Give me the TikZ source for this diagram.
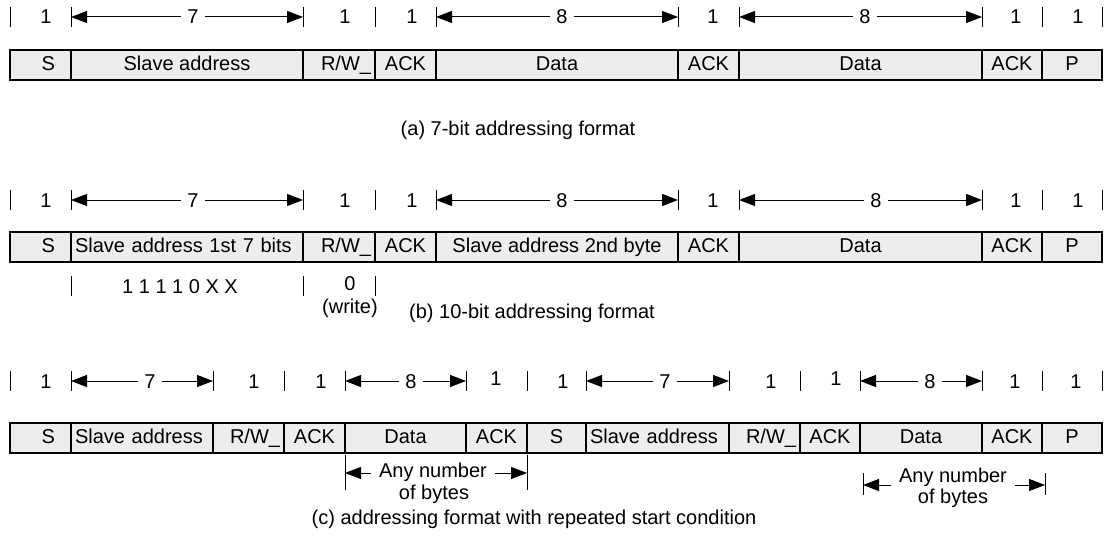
\documentclass[tikz,border=0pt]{standalone}
\usepackage{fontspec}
\setmainfont{Liberation Sans}
\usepackage{tikz}
\usetikzlibrary{arrows.meta}
\definecolor{cellgray}{RGB}{236,237,239}

\begin{document}
\begin{tikzpicture}[
    x=0.5pt, y=-0.5pt,
    every node/.style = {font=\fontsize{10}{12}\selectfont, inner sep=1pt},
    field/.style  = {draw, line width=0.7pt, fill=cellgray, minimum height=15pt,
                     inner xsep=2pt, text height=7pt, text depth=2pt},
    fieldl/.style = {field, align=left},
    fieldr/.style = {field, align=right},
    fields/.style = {field, align=right, inner xsep=8pt, text width=14.5pt},
    num/.style    = {inner xsep=3pt, text height=7pt, text depth=0pt},
    many/.style   = {inner xsep=4pt},
    tick/.style   = {line width=0.5pt},
    dim/.style    = {-{Triangle[length=8pt,width=6pt]}, line width=0.5pt},
]
\useasboundingbox (0,0) rectangle (1106,535);

%% (a) bit counts
\draw[tick] (10,7) -- (10,27) (71,7) -- (71,27) (303,7) -- (303,27) (375,7) -- (375,27)
            (436,7) -- (436,27) (678,7) -- (678,27) (739,7) -- (739,27) (982,7) -- (982,27)
            (1042,7) -- (1042,27) (1102,7) -- (1102,27);
\coordinate (a71)  at (71,17);
\coordinate (a303) at (303,17);
\coordinate (a436) at (436,17);
\coordinate (a678) at (678,17);
\coordinate (a739) at (739,17);
\coordinate (a982) at (982,17);
\node[num] (an1) at (46,17)   {1};
\node[num] (an2) at (193,17)  {7};
\node[num] (an3) at (345,17)  {1};
\node[num] (an4) at (412,17)  {1};
\node[num] (an5) at (562,17)  {8};
\node[num] (an6) at (713,17)  {1};
\node[num] (an7) at (865,17)  {8};
\node[num] (an8) at (1016,17) {1};
\node[num] (an9) at (1078,17) {1};
\draw[dim] (an2) -- (a71);
\draw[dim] (an2) -- (a303);
\draw[dim] (an5) -- (a436);
\draw[dim] (an5) -- (a678);
\draw[dim] (an7) -- (a739);
\draw[dim] (an7) -- (a982);

%% (a) frame
\node[fields]                       (aS)    at (40.5,65)  {S};
\node[field, minimum width=116pt]   (aAdr)  at (187,65)   {Slave address};
\node[fieldr, text width=32pt]      (aRW)   at (339,65)   {R/W\_};
\node[field, minimum width=30.5pt]  (aAck1) at (405.5,65) {ACK};
\node[field, minimum width=121pt]   (aD1)   at (557,65)   {Data};
\node[field, minimum width=30.5pt]  (aAck2) at (708.5,65) {ACK};
\node[field, minimum width=121.5pt] (aD2)   at (860.5,65) {Data};
\node[field, minimum width=30pt]    (aAck3) at (1012,65)  {ACK};
\node[field, minimum width=30pt]    (aP)    at (1072,65)  {P};
\node (acap) at (518,130) {(a) 7-bit addressing format};

%% (b) bit counts
\draw[tick] (10,190) -- (10,210) (71,190) -- (71,210) (303,190) -- (303,210) (375,190) -- (375,210)
            (436,190) -- (436,210) (678,190) -- (678,210) (739,190) -- (739,210) (982,190) -- (982,210)
            (1042,190) -- (1042,210) (1102,190) -- (1102,210);
\coordinate (b71)  at (71,200);
\coordinate (b303) at (303,200);
\coordinate (b436) at (436,200);
\coordinate (b678) at (678,200);
\coordinate (b739) at (739,200);
\coordinate (b982) at (982,200);
\node[num] (bn1) at (46,200)   {1};
\node[num] (bn2) at (193,200)  {7};
\node[num] (bn3) at (345,200)  {1};
\node[num] (bn4) at (412,200)  {1};
\node[num] (bn5) at (562,200)  {8};
\node[num] (bn6) at (713,200)  {1};
\node[num] (bn7) at (876,200)  {8};
\node[num] (bn8) at (1016,200) {1};
\node[num] (bn9) at (1078,200) {1};
\draw[dim] (bn2) -- (b71);
\draw[dim] (bn2) -- (b303);
\draw[dim] (bn5) -- (b436);
\draw[dim] (bn5) -- (b678);
\draw[dim] (bn7) -- (b739);
\draw[dim] (bn7) -- (b982);

%% (b) frame
\node[fields]                       (bS)    at (40.5,247)  {S};
\node[fieldl, text width=112pt]     (bAdr1) at (187,247)   {Slave address 1st 7 bits};
\node[fieldr, text width=32pt]      (bRW)   at (339,247)   {R/W\_};
\node[field, minimum width=30.5pt]  (bAck1) at (405.5,247) {ACK};
\node[field, minimum width=121pt]   (bAdr2) at (557,247)   {Slave address 2nd byte};
\node[field, minimum width=30.5pt]  (bAck2) at (708.5,247) {ACK};
\node[field, minimum width=121.5pt] (bD)    at (860.5,247) {Data};
\node[field, minimum width=30pt]    (bAck3) at (1012,247)  {ACK};
\node[field, minimum width=30pt]    (bP)    at (1072,247)  {P};

%% (b) fixed bits
\draw[tick] (71,276) -- (71,296) (303,276) -- (303,296) (375,276) -- (375,296);
\node (bbits)  at (180,287) {1 1 1 1 0 X X};
\node (bzero)  at (350,284) {0};
\node (bwrite) at (350,308) {(write)};
\node (bcap)   at (532,313) {(b) 10-bit addressing format};

%% (c) bit counts
\draw[tick] (10,371) -- (10,391) (71,371) -- (71,391) (213,371) -- (213,391) (284,371) -- (284,391)
            (345,371) -- (345,391) (466,371) -- (466,391) (527,371) -- (527,391) (586,371) -- (586,391)
            (729,371) -- (729,391) (800,371) -- (800,391) (860,371) -- (860,391) (982,371) -- (982,391)
            (1042,371) -- (1042,391) (1102,371) -- (1102,391);
\coordinate (c71)  at (71,381);
\coordinate (c213) at (213,381);
\coordinate (c345) at (345,381);
\coordinate (c466) at (466,381);
\coordinate (c586) at (586,381);
\coordinate (c729) at (729,381);
\coordinate (c860) at (860,381);
\coordinate (c982) at (982,381);
\node[num] (cn1)  at (46,381)   {1};
\node[num] (cn2)  at (150,381)  {7};
\node[num] (cn3)  at (254,381)  {1};
\node[num] (cn4)  at (321,381)  {1};
\node[num] (cn5)  at (411,381)  {8};
\node[num] (cn6)  at (496,378)  {1};
\node[num] (cn7)  at (563,381)  {1};
\node[num] (cn8)  at (665,381)  {7};
\node[num] (cn9)  at (771,381)  {1};
\node[num] (cn10) at (836,378)  {1};
\node[num] (cn11) at (930,381)  {8};
\node[num] (cn12) at (1015,381) {1};
\node[num] (cn13) at (1076,381) {1};
\draw[dim] (cn2) -- (c71);
\draw[dim] (cn2) -- (c213);
\draw[dim] (cn5) -- (c345);
\draw[dim] (cn5) -- (c466);
\draw[dim] (cn8) -- (c586);
\draw[dim] (cn8) -- (c729);
\draw[dim] (cn11) -- (c860);
\draw[dim] (cn11) -- (c982);

%% (c) frame
\node[fields]                      (cS1)   at (40.5,438)  {S};
\node[fieldl, text width=67pt]     (cAdr1) at (142,438)   {Slave address};
\node[fieldr, text width=31.5pt]   (cRW1)  at (248.5,438) {R/W\_};
\node[field, minimum width=30.5pt] (cAck1) at (314.5,438) {ACK};
\node[field, minimum width=60.5pt] (cD1)   at (405.5,438) {Data};
\node[field, minimum width=30.5pt] (cAck2) at (496.5,438) {ACK};
\node[field, minimum width=29.5pt] (cS2)   at (556.5,438) {S};
\node[fieldl, text width=67.5pt]   (cAdr2) at (657.5,438) {Slave address};
\node[fieldr, text width=31.5pt]   (cRW2)  at (764.5,438) {R/W\_};
\node[field, minimum width=30pt]   (cAck3) at (830,438)   {ACK};
\node[field, minimum width=61pt]   (cD2)   at (921,438)   {Data};
\node[field, minimum width=30pt]   (cAck4) at (1012,438)  {ACK};
\node[field, minimum width=30pt]   (cP)    at (1072,438)  {P};

%% (c) repeated part
\draw[tick] (345,455) -- (345,490) (527,455) -- (527,490) (863,473) -- (863,495) (1045,473) -- (1045,495);
\coordinate (cl1) at (345,473);
\coordinate (cr1) at (527,473);
\coordinate (cl2) at (863,485);
\coordinate (cr2) at (1045,485);
\node[many] (cany1)  at (433,472) {Any number};
\node       (cbyte1) at (434,494) {of bytes};
\node[many] (cany2)  at (953,477) {Any number};
\node       (cbyte2) at (953,498) {of bytes};
\draw[dim] ([yshift=-0.5pt]cany1.west) -- (cl1);
\draw[dim] ([yshift=-0.5pt]cany1.east) -- (cr1);
\draw[dim] ([yshift=-4pt]cany2.west) -- (cl2);
\draw[dim] ([yshift=-4pt]cany2.east) -- (cr2);
\node (ccap) at (534,519) {(c) addressing format with repeated start condition};

\end{tikzpicture}
\end{document}
